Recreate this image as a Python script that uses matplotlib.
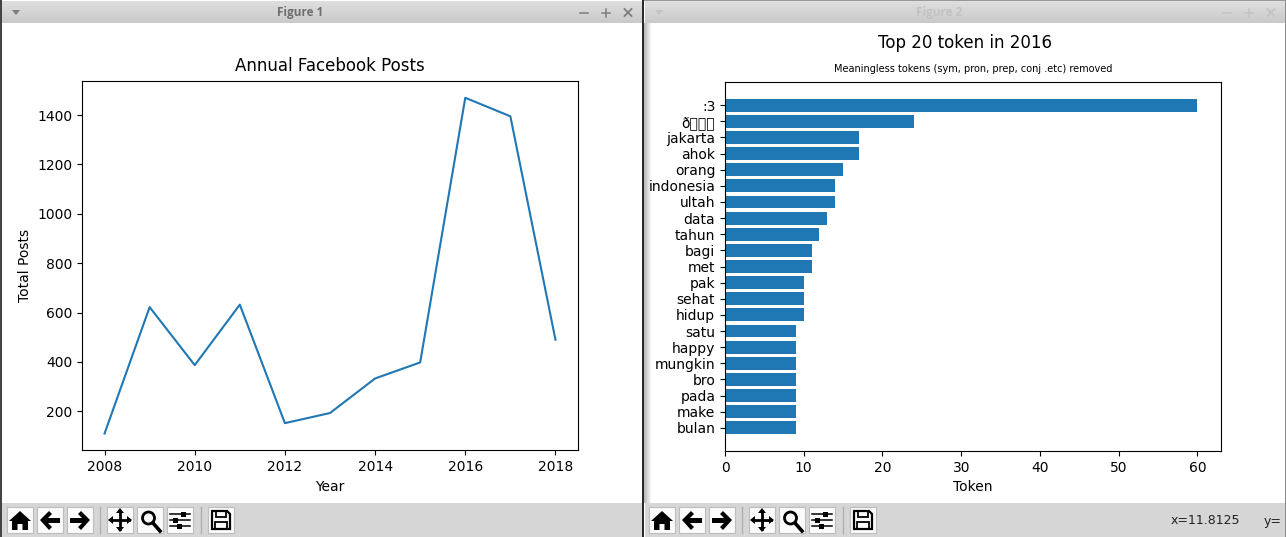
import numpy as np
import matplotlib
matplotlib.use("Agg")
import matplotlib.pyplot as plt
from matplotlib.patches import Rectangle, Polygon, Circle
import warnings, logging
warnings.filterwarnings("ignore")
logging.getLogger("matplotlib").setLevel(logging.ERROR)

years = [2008, 2009, 2010, 2011, 2012, 2013, 2014, 2015, 2016, 2017, 2018]
posts = [110, 622, 387, 632, 152, 193, 333, 398, 1470, 1395, 490]
tokens = [":3", "ð\x9f\x98\x82", "jakarta", "ahok", "orang", "indonesia", "ultah", "data",
          "tahun", "bagi", "met", "pak", "sehat", "hidup", "satu", "happy", "mungkin",
          "bro", "pada", "make", "bulan"]
counts = [60, 24, 17, 17, 15, 14, 14, 13, 12, 11, 11, 10, 10, 10, 9, 9, 9, 9, 9, 9, 9]

W, H = 1286, 537
fig = plt.figure(figsize=(W / 100, H / 100), dpi=100, facecolor="white")


def axrect(x0, y0, x1, y1):
    return [x0 / W, 1 - y1 / H, (x1 - x0) / W, (y1 - y0) / H]


# ---- window chrome, in pixel coordinates ----
ch = fig.add_axes([0, 0, 1, 1], zorder=-1)
ch.axis("off")
GRAD = np.linspace(0.87, 0.79, 32).reshape(-1, 1)
for x0, x1 in [(1, 642), (645, W - 1)]:
    ch.imshow(GRAD, extent=(x0, x1, 23, 1), cmap="gray", vmin=0, vmax=1, aspect="auto", zorder=1)
    ch.add_patch(Rectangle((x0, 503), x1 - x0, 34, fc="#d6d6d6", ec="none", zorder=1))
ch.add_patch(Rectangle((0, 0), 1.5, H, fc="#444444", ec="none", zorder=3))
ch.add_patch(Rectangle((642, 0), 2.2, H, fc="#2a2a2a", ec="none", zorder=3))
ch.add_patch(Rectangle((644, 0), W - 644, 1, fc="#999999", ec="none", zorder=3))
ch.add_patch(Rectangle((W - 1, 0), 1, H, fc="#8a8a8a", ec="none", zorder=3))
ch.imshow(np.linspace(0.72, 1, 12).reshape(1, -1), extent=(644, 652, 503, 23), cmap="gray",
          vmin=0, vmax=1, aspect="auto", zorder=2)
ch.set_xlim(0, W)
ch.set_ylim(H, 0)

ch.text(300.5, 12.5, "Figure 1", ha="center", va="center", fontsize=8.5, fontweight="bold",
        family="Open Sans", color="#6e6e6e")
ch.text(939.5, 12.5, "Figure 2", ha="center", va="center", fontsize=8.5, fontweight="bold",
        family="Open Sans", color="#c2c2c2")


def window_controls(menu_x, xs, color):
    ch.add_patch(Polygon([(menu_x - 4, 10), (menu_x + 4, 10), (menu_x, 15)], fc=color, ec="none", zorder=4))
    m, p, c = xs
    ch.plot([m - 4, m + 4], [12.5, 12.5], color=color, lw=1.1, zorder=4)
    ch.plot([p - 4, p + 4], [12.5, 12.5], color=color, lw=1.1, zorder=4)
    ch.plot([p, p], [8.5, 16.5], color=color, lw=1.1, zorder=4)
    ch.plot([c - 3.5, c + 3.5], [9, 16], color=color, lw=1.3, zorder=4)
    ch.plot([c - 3.5, c + 3.5], [16, 9], color=color, lw=1.3, zorder=4)


window_controls(16, (584, 606, 628), "#7d7d7d")
window_controls(659, (1227, 1249, 1271), "#c4c4c4")


def button(cx):
    ch.add_patch(Rectangle((cx - 13, 507), 26, 26, fc="#fbfbfb", ec="#bdbdbd", lw=0.8, zorder=4))


def draw_toolbar(dx):
    k = "black"
    for c in (20, 50, 80, 120, 150, 180, 221):
        button(c + dx)
    for s in (100, 201):
        ch.plot([s + dx, s + dx], [507, 533], color="#b0b0b0", lw=1, zorder=4)
    c = 20 + dx
    ch.add_patch(Polygon([(c, 511), (c + 11, 521), (c + 8, 521), (c + 8, 530), (c + 2.5, 530), (c + 2.5, 524),
                          (c - 2.5, 524), (c - 2.5, 530), (c - 8, 530), (c - 8, 521), (c - 11, 521)],
                         fc=k, ec="none", zorder=5))
    c = 50 + dx
    ch.add_patch(Polygon([(c - 10, 520), (c - 1, 511), (c + 2, 514), (c - 2, 518), (c + 10, 518), (c + 10, 523),
                          (c - 2, 523), (c + 2, 527), (c - 1, 530)], fc=k, ec="none", zorder=5))
    c = 80 + dx
    ch.add_patch(Polygon([(c + 10, 520), (c + 1, 511), (c - 2, 514), (c + 2, 518), (c - 10, 518), (c - 10, 523),
                          (c + 2, 523), (c - 2, 527), (c + 1, 530)], fc=k, ec="none", zorder=5))
    c = 120 + dx
    ch.plot([c - 9, c + 9], [520, 520], color=k, lw=2, zorder=5)
    ch.plot([c, c], [511, 529], color=k, lw=2, zorder=5)
    for pts in ([(c - 12, 520), (c - 7, 516), (c - 7, 524)], [(c + 12, 520), (c + 7, 516), (c + 7, 524)],
                [(c, 508), (c - 4, 513), (c + 4, 513)], [(c, 532), (c - 4, 527), (c + 4, 527)]):
        ch.add_patch(Polygon(pts, fc=k, ec="none", zorder=5))
    c = 150 + dx
    ch.add_patch(Circle((c - 1.5, 518), 6, fc="none", ec=k, lw=2.0, zorder=5))
    ch.plot([c + 3, c + 10], [523, 531], color=k, lw=2.6, zorder=5)
    c = 180 + dx
    for yy, kx in ((514, 3), (520, -5), (526, -1)):
        ch.plot([c - 10, c + 10], [yy, yy], color=k, lw=1.1, zorder=5)
        ch.add_patch(Rectangle((c + kx - 2.5, yy - 2.5), 5, 5, fc=k, ec="none", zorder=5))
    c = 221 + dx
    ch.add_patch(Polygon([(c - 9, 511), (c + 6, 511), (c + 9, 514), (c + 9, 529), (c - 9, 529)],
                         fc="none", ec=k, lw=1.6, zorder=5))
    ch.add_patch(Rectangle((c - 5, 511), 10, 5.5, fc="none", ec=k, lw=1.3, zorder=5))
    ch.add_patch(Rectangle((c - 6, 522), 12, 7, fc="none", ec=k, lw=1.3, zorder=5))


draw_toolbar(0)
draw_toolbar(642)
ch.text(1171, 521, "x=11.8125", ha="left", va="center", fontsize=9, color="#222222")
ch.text(1264, 521, "y=", ha="left", va="center", fontsize=9, color="#222222")

# ---- line chart ----
ax1 = fig.add_axes(axrect(82, 81, 578, 450.3))
ax1.plot(years, posts, color="#1f77b4")
ax1.set_title("Annual Facebook Posts", fontsize=12, pad=7)
ax1.set_xlabel("Year")
ax1.set_ylabel("Total Posts")

# ---- bar chart ----
ax2 = fig.add_axes(axrect(725, 82, 1221, 451))
ax2.barh(range(len(tokens)), counts[::-1], color="#1f77b4")
ax2.set_yticks(range(len(tokens)))
ax2.set_yticklabels(tokens[::-1])
ax2.set_xlabel("Token")
fig.text(964.5 / W, 1 - 42.5 / H, "Top 20 token in 2016", ha="center", va="center", fontsize=12)
fig.text(973 / W, 1 - 69.5 / H, "Meaningless tokens (sym, pron, prep, conj .etc) removed",
         ha="center", va="center", fontsize=7)

fig.savefig("out.png", dpi=100)
